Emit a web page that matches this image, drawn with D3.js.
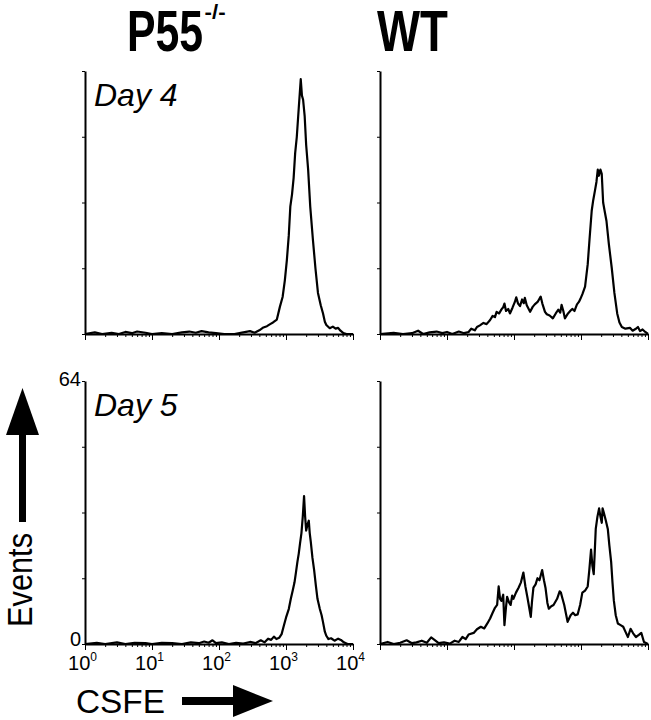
<!DOCTYPE html>
<html>
<head>
<meta charset="utf-8">
<script src="https://cdn.jsdelivr.net/npm/d3@7"></script>
<style>
  body { margin: 0; background: #fff; }
  svg { font-family: "Liberation Sans", Arial, sans-serif; }
</style>
</head>
<body>
<div id="chart"></div>
<script>
// DATA: [CSFE intensity, events]
// ----------------------------------------
const day4KO = [[1,0],[1.4,0.4],[1.8,0],[2.5,0.3],[3.2,0],[4,0.5],[5,0.2],[6,0.6],[8,0.3],[10,0],[14,0.2],[20,0],[28,0.4],[36,0.6],[45,0.3],[55,0.7],[70,0.4],[90,0.2],[120,0],[170,0],[230,0.4],[290,0.7],[340,0.3],[400,0.9],[460,1.6],[520,1.9],[580,2.4],[640,2.8],[730,3.5],[810,6.6],[890,9],[960,13],[1030,18],[1100,24],[1160,31],[1230,34],[1300,38],[1370,44],[1450,48],[1550,55],[1660,62],[1730,58],[1800,57],[1900,53],[2000,46],[2140,40],[2300,31],[2520,23],[2750,16],[3000,10],[3300,7],[3570,5],[3800,3],[4000,2.2],[4500,1.4],[5000,1.8],[5500,1.3],[6000,1.5],[6500,0.8],[7200,0.2],[8000,0],[10000,0]];

const day4WT = [[1,0],[1.6,0.3],[2.2,0],[3,0.2],[3.7,0.8],[4.4,0],[5.5,0.4],[7,0.6],[8.5,0.2],[10,0.5],[12,0],[15,0.6],[18,0.2],[21,0.5],[23,1.3],[26,0.9],[28,1.7],[31,2.1],[35,2.7],[39,2.4],[44,3.4],[48,4.4],[52,4.1],[55,5.4],[60,5],[65,6],[69,6.5],[72,7.4],[76,5.6],[82,6.1],[87,5],[95,6.4],[103,7.8],[108,8.9],[115,7.4],[123,6.8],[132,8.4],[140,7.5],[145,8.8],[155,7],[174,5.4],[190,6.6],[204,7.2],[225,7.8],[250,9.1],[265,7.4],[290,5.4],[309,4.8],[340,4.5],[380,3.8],[420,5],[457,5.9],[490,5.2],[513,7.1],[545,5.6],[575,3.8],[640,5],[700,5.7],[741,6.1],[800,5.6],[871,7.2],[930,7.8],[977,8.5],[1050,9.7],[1150,11.5],[1260,17],[1340,23],[1445,30],[1520,32.5],[1620,35],[1700,37],[1780,40],[1850,38.5],[1950,40],[2040,39],[2140,32],[2250,30],[2400,27.5],[2600,22],[2880,16],[3150,10],[3470,5],[3750,2.8],[4070,1.7],[4600,1.3],[5370,1.5],[5900,0.8],[6500,1.2],[7080,1.7],[7600,0.7],[8300,1.1],[9100,0.5],[10000,0]];

const day5KO = [[1,0],[1.5,0.3],[2,0],[3,0.4],[4,0],[5.5,0.3],[8,0.2],[10,0],[14,0.3],[20,0.2],[28,0],[38,0.4],[50,0.2],[60,0.6],[70,0.3],[80,0.9],[90,0.2],[110,0.4],[140,0],[180,0.3],[230,0.1],[290,0.5],[350,0.2],[420,0.9],[480,0.4],[540,1.3],[600,1],[660,1.8],[720,1.2],[790,1.5],[860,2.4],[930,4.5],[1000,6.4],[1100,8.5],[1180,11],[1260,13],[1340,15],[1410,17.5],[1480,20],[1550,22],[1620,24.5],[1700,27],[1780,31],[1860,36],[1930,31],[2000,27.6],[2090,29],[2190,30],[2260,27],[2340,25],[2480,21],[2630,18],[2800,14],[2950,11],[3200,8.5],[3400,7],[3550,5.5],[3800,3],[4000,2],[4300,1.2],[4700,1.4],[5300,0.8],[6000,1.3],[6600,1],[7300,0.4],[8300,0],[10000,0]];

const day5WT = [[1,0],[1.3,0.5],[1.6,0],[2,0.3],[2.5,0.9],[3,0.2],[3.5,0.4],[4.2,0.8],[5,0.3],[5.8,1.6],[6.5,1],[7.5,0.2],[9,0.4],[11,0.1],[13,0.8],[15,0.5],[17,1.7],[19,1.2],[21,2.3],[25,2.7],[28,3.6],[32,4.2],[36,3.8],[40,5],[44,6.2],[48,7.6],[52,8.8],[56,9.5],[59,14],[62,11],[65,10.5],[69,12],[72,4.6],[76,9],[79,11.5],[84,10.2],[89,9.5],[94,11.8],[98,11],[107,12.5],[117,13.7],[127,15],[138,17.4],[148,14],[158,11.5],[168,9],[178,6.6],[186,10.5],[195,13.7],[210,14.5],[224,16],[240,15.5],[263,18],[280,15.5],[295,13.7],[315,10],[331,8.6],[360,9.2],[389,9.5],[440,11],[480,12.8],[501,12.5],[530,11],[562,9.5],[600,7.2],[631,5.4],[700,7],[759,7.6],[820,7],[891,7.2],[970,9.5],[1047,12.5],[1150,13],[1259,14],[1330,18],[1413,23],[1480,19],[1549,17],[1600,22],[1660,28],[1760,31],[1862,33],[1950,31],[2042,29.5],[2100,33],[2188,32],[2350,30],[2512,28],[2650,24],[2818,20],[2950,15],[3090,10.6],[3300,7],[3548,5],[3900,4.6],[4266,4.2],[4600,3],[5012,1.7],[5495,3.7],[6000,2.6],[6607,1.7],[7300,2.2],[7943,2.7],[8710,0.5],[10000,0]];

const columnTitles = ["P55", "WT"];
const dayLabels = ["Day 4", "Day 5"];
const xDecades = [1, 10, 100, 1000, 10000];
const yTicks = [0, 16, 32, 48, 64];

// LAYOUT
// ----------------------------------------
const WIDTH = 651, HEIGHT = 720;
const PANEL_W = 268, PANEL_H = 263;
const COL_X = [85, 380];
const ROW_Y = [71, 381];

const svg = d3.select("#chart").append("svg")
    .attr("width", WIDTH)
    .attr("height", HEIGHT);

const xScale = d3.scaleLog().domain([1, 10000]).range([0, PANEL_W]);
const yScale = d3.scaleLinear().domain([0, 64]).range([PANEL_H, 0]);

const minorTicks = [];
xDecades.slice(0, -1).forEach(d => {
    for (let k = 2; k <= 9; k++) minorTicks.push(d * k);
});

const line = d3.line()
    .x(d => xScale(d[0]))
    .y(d => yScale(d[1]));

const panels = [
    { data: day4KO, col: 0, row: 0 },
    { data: day4WT, col: 1, row: 0 },
    { data: day5KO, col: 0, row: 1 },
    { data: day5WT, col: 1, row: 1 }
];

panels.forEach(p => {
    const g = svg.append("g")
        .attr("transform", `translate(${COL_X[p.col]},${ROW_Y[p.row]})`);
    const labelled = p.col === 0 && p.row === 1;

    // y axis
    const yAxis = g.append("g")
        .call(d3.axisLeft(yScale).tickValues(yTicks).tickSize(3).tickSizeOuter(0)
            .tickFormat(d => labelled && (d === 0 || d === 64) ? d : ""));
    yAxis.select(".domain").attr("stroke-width", 2);
    yAxis.selectAll("text").attr("font-size", 20).attr("fill", "#000").attr("dx", 2)
        .attr("dy", d => d === 64 ? "0.2em" : "0.05em");

    // x axis: minor then major ticks
    const xMinor = g.append("g")
        .attr("transform", `translate(0,${PANEL_H})`)
        .call(d3.axisBottom(xScale).tickValues(minorTicks).tickSize(3).tickSizeOuter(0).tickFormat(""));
    xMinor.select(".domain").attr("stroke-width", 2);

    const xMajor = g.append("g")
        .attr("transform", `translate(0,${PANEL_H})`)
        .call(d3.axisBottom(xScale).tickValues(xDecades).tickSize(6).tickSizeOuter(0).tickFormat(""));
    xMajor.select(".domain").remove();

    if (labelled) {
        xMajor.selectAll(".tick").append("text")
            .attr("y", 26)
            .attr("x", -3)
            .attr("text-anchor", "middle")
            .attr("font-size", 20)
            .attr("fill", "#000")
            .text("10")
            .append("tspan")
            .attr("dy", -9)
            .attr("font-size", 12)
            .text(d => Math.round(Math.log10(d)));
    }

    // histogram
    g.append("path")
        .datum(p.data)
        .attr("fill", "none")
        .attr("stroke", "#000")
        .attr("stroke-width", 2.2)
        .attr("stroke-linejoin", "round")
        .attr("d", line);

    if (p.col === 0) {
        g.append("text")
            .attr("x", 9)
            .attr("y", 35)
            .attr("font-size", 32)
            .attr("font-style", "italic")
            .attr("fill", "#000")
            .text(dayLabels[p.row]);
    }
});

// COLUMN TITLES (condensed bold)
// ----------------------------------------
const koTitle = svg.append("text")
    .attr("transform", "translate(127,51) scale(0.75,1)")
    .attr("font-size", 57).attr("font-weight", "bold")
    .text(columnTitles[0]);
koTitle.append("tspan")
    .attr("dx", 2).attr("dy", -32)
    .attr("font-size", 20)
    .attr("textLength", 28).attr("lengthAdjust", "spacingAndGlyphs")
    .text("-/-");

svg.append("text")
    .attr("transform", "translate(377,51) scale(0.8,1)")
    .attr("font-size", 57).attr("font-weight", "bold")
    .text(columnTitles[1]);

// AXIS TITLES WITH ARROWS
// ----------------------------------------
svg.append("text")
    .attr("transform", "translate(32,627) rotate(-90)")
    .attr("font-size", 35)
    .attr("textLength", 94).attr("lengthAdjust", "spacingAndGlyphs")
    .text("Events");
svg.append("rect").attr("x", 19).attr("y", 430).attr("width", 7).attr("height", 92);
svg.append("path").attr("d", "M22.5,388 L39,435 L6,435 Z");

svg.append("text")
    .attr("x", 76).attr("y", 713)
    .attr("font-size", 34)
    .attr("textLength", 89).attr("lengthAdjust", "spacingAndGlyphs")
    .text("CSFE");
svg.append("rect").attr("x", 182).attr("y", 697).attr("width", 56).attr("height", 8);
svg.append("path").attr("d", "M273,701 L233,685 L233,717 Z");
</script>
</body>
</html>
